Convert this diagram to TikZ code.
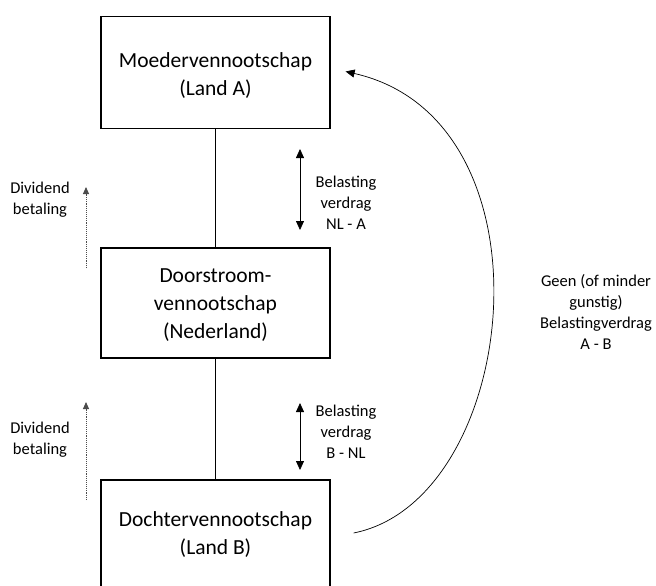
\documentclass[tikz,border=0pt]{standalone}
\usepackage{fontspec}
\setmainfont{Carlito}
\usetikzlibrary{arrows.meta,calc}
\begin{document}
\begin{tikzpicture}[x=1pt,y=-1pt,
  entity/.style={draw,line width=1.2pt,minimum width=229pt,minimum height=112pt,inner sep=0pt},
  etext/.style={align=center,font=\fontsize{21.5}{28}\selectfont,inner sep=0pt},
  lbl/.style={align=center,font=\fontsize{16.5}{21}\selectfont,inner sep=0pt},
  dbl/.style={{Triangle[length=9pt,width=8pt]}-{Triangle[length=9pt,width=8pt]},line width=0.8pt},
  flow/.style={-{Triangle[length=7pt,width=6pt]},densely dotted,line width=0.9pt,draw=black!70},
  link/.style={line width=0.7pt}]
\useasboundingbox (0,0) rectangle (656,586);
\node[entity] (moeder) at (215.5,72.5) {};
\node[entity,minimum height=110pt] (door) at (215.5,303) {};
\node[entity,minimum height=110pt] (dochter) at (215.5,535) {};
\node[etext] (moederT) at ($(moeder.center)+(0,3.5)$) {Moedervennootschap\\(Land A)};
\node[etext] (doorT) at ($(door.center)+(0,2)$) {Doorstroom-\\vennootschap\\(Nederland)};
\node[etext] (dochterT) at ($(dochter.center)+(0,0)$) {Dochtervennootschap\\(Land B)};
\draw[link] (moeder) -- (door);
\draw[link] (door) -- (dochter);
\coordinate (d1t) at (300,149); \coordinate (d1b) at (300,230);
\draw[dbl] (d1t) -- (d1b);
\coordinate (d2t) at (300,403); \coordinate (d2b) at (300,470);
\draw[dbl] (d2t) -- (d2b);
\node[lbl] (v1) at (346,203) {Belasting\\verdrag\\NL - A};
\node[lbl] (v2) at (346,432) {Belasting\\verdrag\\B - NL};
\coordinate (f1b) at (86,268); \coordinate (f1t) at (86,187);
\draw[flow] (f1b) -- (f1t);
\coordinate (f2b) at (86,500); \coordinate (f2t) at (86,402);
\draw[flow] (f2b) -- (f2t);
\node[lbl] (div1) at (40,200) {Dividend\\betaling};
\node[lbl] (div2) at (40,440) {Dividend\\betaling};
\coordinate (cs) at ($(dochter.east)+(23,-2)$);
\coordinate (ce) at ($(moeder.east)+(15,-1)$);
\draw[line width=0.7pt,-{Triangle[length=9pt,width=8pt]}] (cs) .. controls (520,500) and (560,120) .. (ce);
\node[lbl] (geen) at (596,312) {Geen (of minder\\gunstig)\\Belastingverdrag\\A - B};
\end{tikzpicture}
\end{document}
